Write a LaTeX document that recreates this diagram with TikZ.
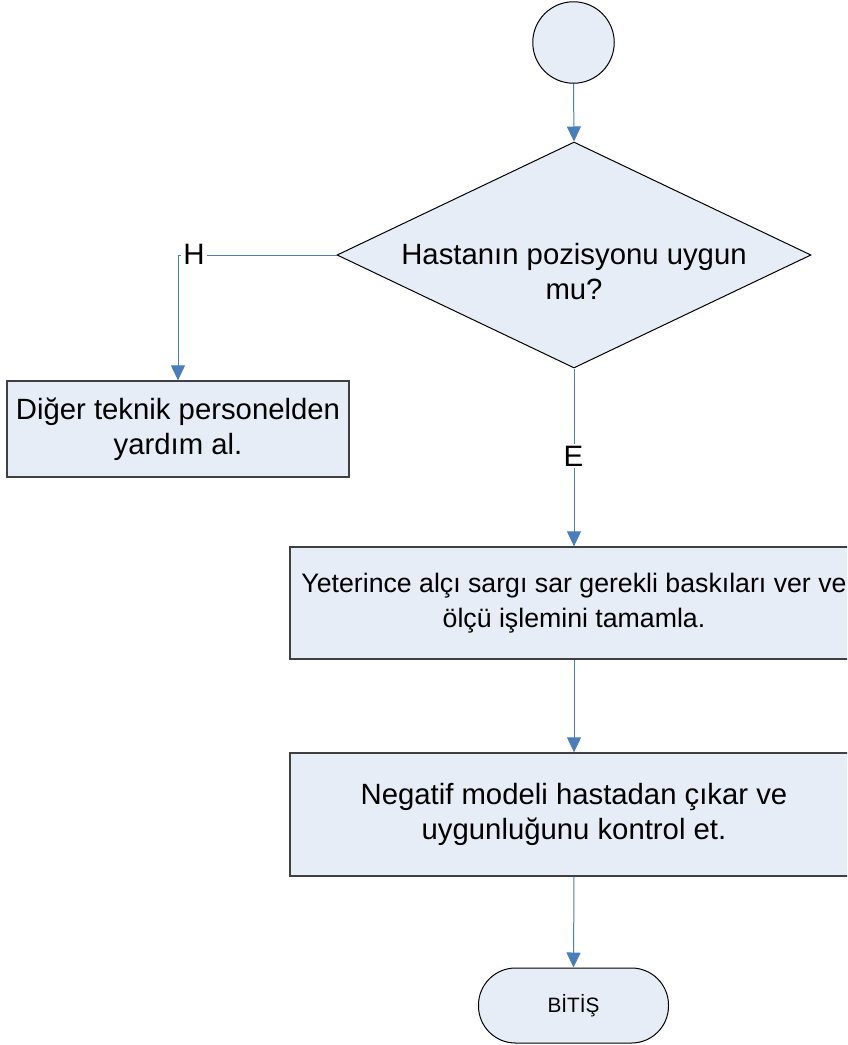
\documentclass[tikz,border=0pt]{standalone}
\usepackage{fontspec}
\setmainfont{Liberation Sans}
\usetikzlibrary{arrows.meta,shapes.geometric}
\definecolor{fillblue}{RGB}{231,237,247}
\definecolor{linkblue}{RGB}{74,126,187}
\tikzset{
  base/.style={fill=fillblue, inner sep=0pt, text=black},
  startcircle/.style={base, draw=black, line width=1pt, circle, minimum size=81.5pt},
  decision/.style={base, draw=black, line width=1pt, diamond, minimum width=474pt, minimum height=226pt, aspect=2.097},
  procbox/.style={base, draw=black!75, line width=1.3pt, rectangle, align=center, font=\fontsize{29.3}{35}\selectfont},
  termbox/.style={base, draw=black, line width=1pt, rectangle, rounded corners=37pt, minimum width=190pt, minimum height=75pt, font=\fontsize{20.8}{24}\selectfont},
  txt/.style={align=center, inner sep=0pt, font=\fontsize{29.3}{35}\selectfont},
  lbl/.style={fill=white, inner sep=2pt, font=\fontsize{29.5}{35}\selectfont},
  link/.style={draw=linkblue, line width=1pt, -{Triangle[width=14pt,length=15pt]}},
}
\begin{document}
\begin{tikzpicture}[x=1pt,y=-1pt]
\useasboundingbox (0,0) rectangle (847,1045);
\clip (0,0) rectangle (847,1045);
\node[startcircle] (start) at (573.5,42.5) {};
\node[decision] (dec) at (574,255) {};
\node[txt] (dectext) at (574,272) {Hastanın pozisyonu uygun\\mu?};
\node[procbox, minimum width=342pt, minimum height=96pt] (help) at (178,429) {Diğer teknik personelden\\yardım al.};
\node[procbox, minimum width=568pt, minimum height=112pt, font=\fontsize{26.7}{34.5}\selectfont] (wrap) at (574,603) {Yeterince alçı sargı sar gerekli baskıları ver ve\\ölçü işlemini tamamla.};
\node[procbox, minimum width=568pt, minimum height=123pt] (neg) at (574,814.5) {Negatif modeli hastadan çıkar ve\\uygunluğunu kontrol et.};
\node[termbox] (stop) at (573.5,1005.5) {BİTİŞ};
\draw[link] (start.south) -- (dec.north);
\draw[link] (dec.west) -| (help.north);
\draw[link] (dec.south) -- (wrap.north);
\draw[link] (wrap.south) -- (neg.north);
\draw[link] (neg.south) -- (stop.north);
\node[lbl] (hlabel) at (194,254) {H};
\node[lbl] (elabel) at (573.5,456) {E};
\end{tikzpicture}
\end{document}
